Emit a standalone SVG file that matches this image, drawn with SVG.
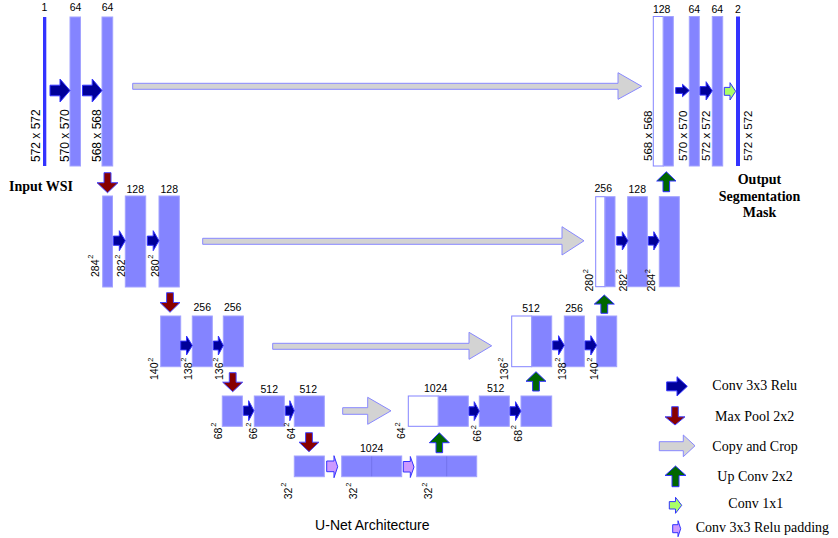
<svg xmlns="http://www.w3.org/2000/svg" width="838" height="538" viewBox="0 0 838 538">
<style>
.bar{fill:#8484ff;stroke:#a2a2ff;stroke-width:1}
.thin{fill:#3333ff;stroke:none}
.wbox{fill:#ffffff;stroke:#8484ff;stroke-width:1}
.div{stroke:#6e6ee6;stroke-width:0.8}
.conv{fill:#000099;stroke:#3333ff;stroke-width:1}
.pool{fill:#880000;stroke:#4444ff;stroke-width:1}
.up{fill:#006600;stroke:#3333ff;stroke-width:1}
.copy{fill:#d3d3d3;stroke:#8888ff;stroke-width:1}
.c11{fill:#aaff66;stroke:#3333ff;stroke-width:1}
.pad{fill:#cc99ff;stroke:#3333ff;stroke-width:1}
.num{font-family:"Liberation Sans",Arial,sans-serif;font-size:10.5px;fill:#000;text-anchor:middle}
.dim{font-family:"Liberation Sans",Arial,sans-serif;font-size:12px;fill:#000}
.dimr{font-family:"Liberation Sans",Arial,sans-serif;font-size:11.5px;fill:#000}
.sq{font-family:"Liberation Sans",Arial,sans-serif;font-size:10.5px;fill:#000}
.sup{font-size:7.5px}
.bold{font-family:"Liberation Serif","Times New Roman",serif;font-size:14px;font-weight:bold;fill:#000}
.leg{font-family:"Liberation Serif","Times New Roman",serif;font-size:14px;fill:#000}
.title{font-family:"Liberation Sans",Arial,sans-serif;font-size:14px;fill:#000;text-anchor:middle}
</style>

<!-- Level 1 encoder -->
<g id="enc1">
<rect class="thin" x="43" y="17" width="3.3" height="149"/>
<rect class="bar" x="70" y="17" width="10.5" height="149"/>
<rect class="bar" x="102" y="17" width="10.7" height="149"/>
<text class="num" x="44.5" y="11">1</text>
<text class="num" x="75.5" y="11">64</text>
<text class="num" x="107.5" y="11">64</text>
<text class="dim" transform="translate(39.5,162) rotate(-90)">572 x 572</text>
<text class="dim" transform="translate(68.5,162) rotate(-90)">570 x 570</text>
<text class="dim" transform="translate(100.5,162) rotate(-90)">568 x 568</text>
<text class="bold" x="9" y="190.5">Input WSI</text>
</g>

<!-- Level 2 encoder -->
<g id="enc2">
<rect class="bar" x="102.7" y="196" width="9.8" height="91"/>
<rect class="bar" x="125.3" y="196" width="20.4" height="91"/>
<rect class="bar" x="159" y="196" width="20.3" height="91"/>
<text class="num" x="135.3" y="192.7">128</text>
<text class="num" x="169.3" y="192.7">128</text>
<text class="sq" transform="translate(98.5,277) rotate(-90)">284<tspan class="sup" dx="0.8" dy="-5.5">2</tspan></text>
<text class="sq" transform="translate(125,277) rotate(-90)">282<tspan class="sup" dx="0.8" dy="-5.5">2</tspan></text>
<text class="sq" transform="translate(158.5,277) rotate(-90)">280<tspan class="sup" dx="0.8" dy="-5.5">2</tspan></text>
</g>

<!-- Level 3 encoder -->
<g id="enc3">
<rect class="bar" x="160.7" y="316" width="20" height="50.7"/>
<rect class="bar" x="192.3" y="316" width="20" height="50.7"/>
<rect class="bar" x="223.3" y="316" width="20" height="50.7"/>
<text class="num" x="202.3" y="311">256</text>
<text class="num" x="232.7" y="311">256</text>
<text class="sq" transform="translate(158.3,380) rotate(-90)">140<tspan class="sup" dx="0.8" dy="-5.5">2</tspan></text>
<text class="sq" transform="translate(191.7,380) rotate(-90)">138<tspan class="sup" dx="0.8" dy="-5.5">2</tspan></text>
<text class="sq" transform="translate(223.3,380) rotate(-90)">136<tspan class="sup" dx="0.8" dy="-5.5">2</tspan></text>
</g>

<!-- Level 4 encoder -->
<g id="enc4">
<rect class="bar" x="222.3" y="396" width="20" height="30.3"/>
<rect class="bar" x="254.3" y="396" width="30" height="30.3"/>
<rect class="bar" x="294.3" y="396" width="30" height="30.3"/>
<text class="num" x="269.3" y="392.7">512</text>
<text class="num" x="308.3" y="392.7">512</text>
<text class="sq" transform="translate(221.7,439.3) rotate(-90)">68<tspan class="sup" dx="0.8" dy="-5.5">2</tspan></text>
<text class="sq" transform="translate(256.5,439.3) rotate(-90)">66<tspan class="sup" dx="0.8" dy="-5.5">2</tspan></text>
<text class="sq" transform="translate(294.8,439.3) rotate(-90)">64<tspan class="sup" dx="0.8" dy="-5.5">2</tspan></text>
</g>

<!-- Bottleneck -->
<g id="bottleneck">
<rect class="bar" x="294.3" y="456" width="30" height="20.7"/>
<rect class="bar" x="341.7" y="456" width="60" height="20.7"/>
<line class="div" x1="371.7" y1="456.5" x2="371.7" y2="476.2"/>
<rect class="bar" x="416.7" y="456" width="60" height="20.7"/>
<line class="div" x1="446.7" y1="456.5" x2="446.7" y2="476.2"/>
<text class="num" x="371.7" y="451.7">1024</text>
<text class="sq" transform="translate(291.7,499.3) rotate(-90)">32<tspan class="sup" dx="0.8" dy="-5.5">2</tspan></text>
<text class="sq" transform="translate(356.7,499.3) rotate(-90)">32<tspan class="sup" dx="0.8" dy="-5.5">2</tspan></text>
<text class="sq" transform="translate(432.3,499.3) rotate(-90)">32<tspan class="sup" dx="0.8" dy="-5.5">2</tspan></text>
</g>

<!-- Level 4 decoder -->
<g id="dec4">
<rect class="wbox" x="408.3" y="396" width="30" height="30.3"/>
<rect class="bar" x="438.3" y="396" width="30" height="30.3"/>
<rect class="bar" x="479.3" y="396" width="30" height="30.3"/>
<rect class="bar" x="521" y="396" width="30.7" height="30.3"/>
<text class="num" x="435.7" y="392.2">1024</text>
<text class="num" x="495.7" y="392.2">512</text>
<text class="sq" transform="translate(405,439) rotate(-90)">64<tspan class="sup" dx="0.8" dy="-5.5">2</tspan></text>
<text class="sq" transform="translate(481,441.7) rotate(-90)">66<tspan class="sup" dx="0.8" dy="-5.5">2</tspan></text>
<text class="sq" transform="translate(521.7,441.7) rotate(-90)">68<tspan class="sup" dx="0.8" dy="-5.5">2</tspan></text>
</g>

<!-- Level 3 decoder -->
<g id="dec3">
<rect class="wbox" x="511.7" y="316" width="20" height="50.7"/>
<rect class="bar" x="531.7" y="316" width="20" height="50.7"/>
<rect class="bar" x="564.3" y="316" width="20" height="50.7"/>
<rect class="bar" x="596.7" y="316" width="20" height="50.7"/>
<text class="num" x="531" y="311.5">512</text>
<text class="num" x="574" y="311.5">256</text>
<text class="sq" transform="translate(508.3,380) rotate(-90)">136<tspan class="sup" dx="0.8" dy="-5.5">2</tspan></text>
<text class="sq" transform="translate(565.7,380) rotate(-90)">138<tspan class="sup" dx="0.8" dy="-5.5">2</tspan></text>
<text class="sq" transform="translate(597.5,380) rotate(-90)">140<tspan class="sup" dx="0.8" dy="-5.5">2</tspan></text>
</g>

<!-- Level 2 decoder -->
<g id="dec2">
<rect class="wbox" x="595.7" y="196.7" width="9.3" height="90"/>
<rect class="bar" x="605" y="196.7" width="10" height="90"/>
<rect class="bar" x="627.7" y="196.7" width="19.6" height="90"/>
<rect class="bar" x="659.3" y="196.7" width="20" height="90"/>
<text class="num" x="603.3" y="191.7">256</text>
<text class="num" x="637.3" y="193">128</text>
<text class="sq" transform="translate(593.3,291.5) rotate(-90)">280<tspan class="sup" dx="0.8" dy="-5.5">2</tspan></text>
<text class="sq" transform="translate(626.5,291.5) rotate(-90)">282<tspan class="sup" dx="0.8" dy="-5.5">2</tspan></text>
<text class="sq" transform="translate(655,291.5) rotate(-90)">284<tspan class="sup" dx="0.8" dy="-5.5">2</tspan></text>
</g>

<!-- Level 1 decoder -->
<g id="dec1">
<rect class="wbox" x="653.3" y="16.5" width="10" height="149.5"/>
<rect class="bar" x="663.3" y="16.5" width="10" height="149.5"/>
<rect class="bar" x="689.3" y="16.5" width="10" height="149.5"/>
<rect class="bar" x="712.3" y="16.5" width="10.4" height="149.5"/>
<rect class="thin" x="736" y="16.5" width="4" height="149.5"/>
<text class="num" x="661.7" y="12.5">128</text>
<text class="num" x="694.3" y="12.5">64</text>
<text class="num" x="717.3" y="12.5">64</text>
<text class="num" x="738" y="12.5">2</text>
<text class="dimr" transform="translate(651.5,161) rotate(-90)">568 x 568</text>
<text class="dimr" transform="translate(686.5,161) rotate(-90)">570 x 570</text>
<text class="dimr" transform="translate(710,161) rotate(-90)">572 x 572</text>
<text class="dimr" transform="translate(751.5,161) rotate(-90)">572 x 572</text>
<text class="bold" text-anchor="middle" x="759.5" y="183.5">Output</text>
<text class="bold" text-anchor="middle" x="759.5" y="200.5">Segmentation</text>
<text class="bold" text-anchor="middle" x="759.5" y="217">Mask</text>
</g>

<!-- Connectors -->
<g id="connectors">
<!-- conv 3x3 relu -->
<polygon class="conv" points="50,85.2 60,85.2 60,79 70,90.5 60,102 60,95.8 50,95.8"/>
<polygon class="conv" points="82.5,85.2 92.2,85.2 92.2,79 102,90.5 92.2,102 92.2,95.8 82.5,95.8"/>
<polygon class="conv" points="113.3,236.1 119.3,236.1 119.3,230.7 125.3,240.7 119.3,250.7 119.3,245.3 113.3,245.3"/>
<polygon class="conv" points="147.3,236.1 153.2,236.1 153.2,230.7 159,240.7 153.2,250.7 153.2,245.3 147.3,245.3"/>
<polygon class="conv" points="180.7,341.1 186.5,341.1 186.5,336 192.3,345.5 186.5,355 186.5,349.9 180.7,349.9"/>
<polygon class="conv" points="213.3,341.1 218.3,341.1 218.3,336 223.3,345.5 218.3,355 218.3,349.9 213.3,349.9"/>
<polygon class="conv" points="243.3,406.1 248.6,406.1 248.6,400.7 254,410.7 248.6,420.7 248.6,415.3 243.3,415.3"/>
<polygon class="conv" points="285.3,406.1 289.8,406.1 289.8,400.7 294.3,410.7 289.8,420.7 289.8,415.3 285.3,415.3"/>
<polygon class="conv" points="469,406.8 474.2,406.8 474.2,401.7 479.3,411.1 474.2,420.5 474.2,415.4 469,415.4"/>
<polygon class="conv" points="510,406.8 515.5,406.8 515.5,401.7 521,411.1 515.5,420.5 515.5,415.4 510,415.4"/>
<polygon class="conv" points="552.7,340.9 558.5,340.9 558.5,335.7 564.3,345.35 558.5,355 558.5,349.8 552.7,349.8"/>
<polygon class="conv" points="585,340.9 590.8,340.9 590.8,335.7 596.7,345.35 590.8,355 590.8,349.8 585,349.8"/>
<polygon class="conv" points="616.7,236.6 622.3,236.6 622.3,231.7 628,240.85 622.3,250 622.3,245.1 616.7,245.1"/>
<polygon class="conv" points="648.3,236.6 653.8,236.6 653.8,231.7 659.3,240.85 653.8,250 653.8,245.1 648.3,245.1"/>
<polygon class="conv" points="675.7,87.6 682.5,87.6 682.5,84.3 689.3,90.5 682.5,96.7 682.5,93.4 675.7,93.4"/>
<polygon class="conv" points="700,86.6 706.1,86.6 706.1,81.7 712.3,90.85 706.1,100 706.1,95.1 700,95.1"/>
<!-- conv 1x1 -->
<polygon class="c11" points="724.3,87.4 730,87.4 730,82.7 735.7,91.35 730,100 730,95.3 724.3,95.3"/>
<!-- max pool -->
<polygon class="pool" points="104,172.7 111,172.7 111,182.7 118,182.7 107.5,192.7 97,182.7 104,182.7"/>
<polygon class="pool" points="166.6,292.7 173.4,292.7 173.4,302.5 180,302.5 170,312.3 160,302.5 166.6,302.5"/>
<polygon class="pool" points="229.3,372.7 236.1,372.7 236.1,382.2 242.7,382.2 232.7,391.7 222.7,382.2 229.3,382.2"/>
<polygon class="pool" points="305.6,432.7 312.4,432.7 312.4,442.2 319,442.2 309,451.7 299,442.2 305.6,442.2"/>
<!-- conv 3x3 relu padding -->
<polygon class="pad" points="326.7,461 334,461 334,455.7 337.7,466.7 334,477.7 334,471.7 326.7,471.7"/>
<polygon class="pad" points="403.3,461.5 410.3,461.5 410.3,456.5 414,467 410.3,477.5 410.3,472 403.3,472"/>
<!-- up conv -->
<polygon class="up" points="439.3,432.7 449.3,442.7 442.6,442.7 442.6,452.7 436,452.7 436,442.7 429.3,442.7"/>
<polygon class="up" points="536,371.7 546,381.3 539.4,381.3 539.4,391 532.6,391 532.6,381.3 526,381.3"/>
<polygon class="up" points="604.3,295 614.3,304.1 607.7,304.1 607.7,313.3 600.9,313.3 600.9,304.1 594.3,304.1"/>
<polygon class="up" points="666.3,171.7 676,181 669.6,181 669.6,191.7 663,191.7 663,181 656.7,181"/>
<!-- copy and crop -->
<polygon class="copy" points="132.7,83.3 618,83.3 618,72.7 641.7,86.3 618,99.3 618,89.3 132.7,89.3"/>
<polygon class="copy" points="202.7,238.3 562,238.3 562,226.7 584,240.8 562,255 562,244.3 202.7,244.3"/>
<polygon class="copy" points="272.7,343.3 469,343.3 469,332.3 491.7,345.8 469,359.3 469,349.3 272.7,349.3"/>
<polygon class="copy" points="342.7,407.7 367.7,407.7 367.7,397.3 391,410.8 367.7,424.3 367.7,414.3 342.7,414.3"/>
</g>

<!-- Legend -->
<g id="legend">
<polygon class="conv" points="666.7,381.9 677,381.9 677,376.7 687.3,386.35 677,396 677,390.8 666.7,390.8"/>
<text class="leg" x="712.3" y="390">Conv 3x3 Relu</text>
<polygon class="pool" points="671.7,406.7 678.3,406.7 678.3,416.8 685,416.8 675,425 665,416.8 671.7,416.8"/>
<text class="leg" x="715" y="420.5">Max Pool 2x2</text>
<polygon class="copy" points="659.3,441.7 683.3,441.7 683.3,435 695,445.8 683.3,456.7 683.3,450.7 659.3,450.7"/>
<text class="leg" x="712.3" y="450.7">Copy and Crop</text>
<polygon class="up" points="675.5,466 686,475.5 679,475.5 679,486.7 672,486.7 672,475.5 665,475.5"/>
<text class="leg" x="717.3" y="480.7">Up Conv 2x2</text>
<polygon class="c11" points="669.3,501.6 675.5,501.6 675.5,497.3 681.7,505.3 675.5,513.3 675.5,509 669.3,509"/>
<text class="leg" x="728.3" y="508.3">Conv 1x1</text>
<polygon class="pad" points="672.7,524.7 678,524.7 678,520.7 680.7,528.7 678,536.7 678,532.7 672.7,532.7"/>
<text class="leg" x="695.7" y="531.7">Conv 3x3 Relu padding</text>
</g>

<g id="title">
<text class="title" x="372.3" y="530">U-Net Architecture</text>
</g>
</svg>
